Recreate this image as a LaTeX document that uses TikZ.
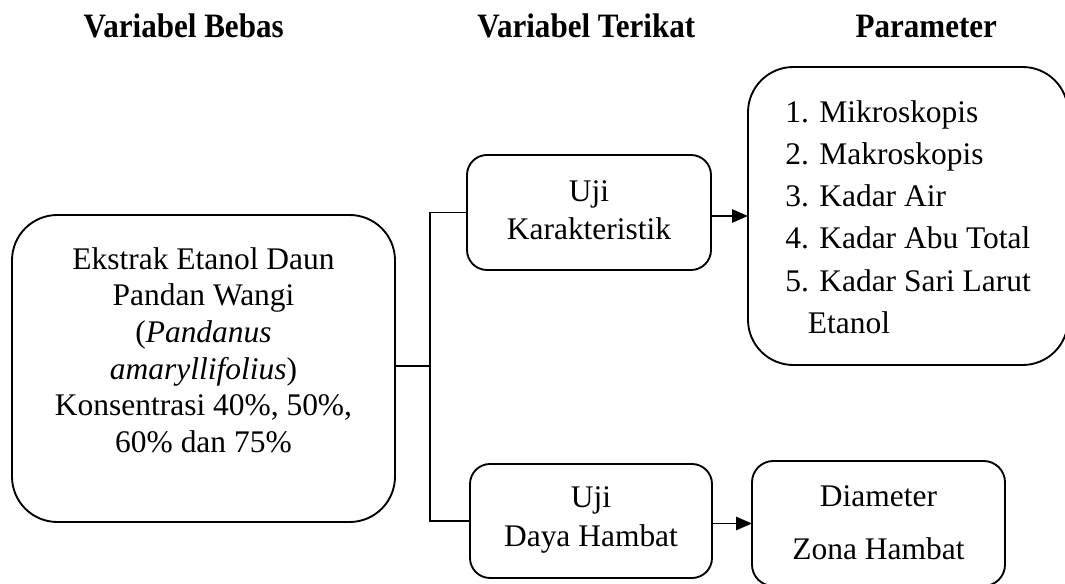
\documentclass[tikz,border=0pt]{standalone}
\usepackage{fontspec}
\setmainfont{Liberation Serif}
\usetikzlibrary{arrows.meta}
\begin{document}
\begin{tikzpicture}[x=0.75pt,y=-0.75pt,
  box/.style={draw,line width=1.4pt,inner sep=0pt,outer sep=0pt},
  txt/.style={inner sep=0pt,align=center},
  ttl/.style={inner sep=0pt,anchor=base,font=\fontsize{23.3}{28}\selectfont\bfseries,yscale=1.1},
  conn/.style={line width=1.4pt},
  arr/.style={line width=1.4pt,-{Triangle[length=12pt,width=10pt]}}]
\useasboundingbox (0,0) rectangle (1065,584);
% titles
\node[ttl] (t1) at (183.7,38) {Variabel Bebas};
\node[ttl] (t2) at (586.3,38) {Variabel Terikat};
\node[ttl] (t3) at (926.3,38) {Parameter};
% boxes
\node[box,rounded corners=34pt,minimum width=287.25pt,minimum height=230.25pt] (kiri) at (203.5,368.5) {};
\node[box,rounded corners=15pt,minimum width=183pt,minimum height=86.25pt] (uk) at (589,212.5) {};
\node[box,rounded corners=15pt,minimum width=181.5pt,minimum height=85.5pt] (udh) at (591,521) {};
\node[box,rounded corners=34pt,minimum width=240pt,minimum height=223.5pt] (param) at (908,216) {};
\node[box,rounded corners=16pt,minimum width=189.75pt,minimum height=93.75pt] (diam) at (878.5,523.5) {};
% texts
\node[txt,font=\fontsize{23.6}{27.5}\selectfont] (tkiri) at (203.5,350)
  {Ekstrak Etanol Daun\\Pandan Wangi\\(\textit{Pandanus}\\\textit{amaryllifolius})\\Konsentrasi 40\%, 50\%,\\60\% dan 75\%};
\node[txt,font=\fontsize{23.6}{28.2}\selectfont] (tuk) at (589,210) {Uji\\Karakteristik};
\node[txt,font=\fontsize{23.6}{29}\selectfont] (tudh) at (591,520) {Uji\\Daya Hambat};
\node[txt,align=left,anchor=west,font=\fontsize{23.6}{31.65}\selectfont] (tparam) at (785,217)
  {1. Mikroskopis\\2. Makroskopis\\3. Kadar Air\\4. Kadar Abu Total\\5. Kadar Sari Larut\\\hspace*{17pt}Etanol};
\node[txt,font=\fontsize{23.6}{40}\selectfont] (tdiam) at (878.5,522.5) {Diameter\\Zona Hambat};
% connectors
\coordinate (j) at (430,366);
\draw[conn] (kiri.east |- j) -- (j);
\draw[conn] (uk.west) -| (j) |- (udh.west);
\draw[arr] (uk.east |- param.west) -- (param.west);
\draw[arr] (udh.east |- diam.west) -- (diam.west);
\end{tikzpicture}
\end{document}
